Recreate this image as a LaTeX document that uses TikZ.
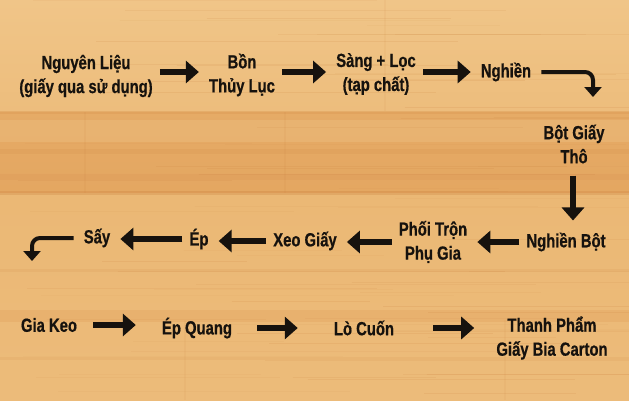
\documentclass[tikz,border=0pt]{standalone}
\usepackage{fontspec}
\newfontfamily\stagefont{Liberation Sans}[FakeStretch=0.78,FakeBold=0.6]
\usetikzlibrary{arrows.meta,calc}

\definecolor{woodlight}{RGB}{240,197,136}
\definecolor{woodbase}{RGB}{235,184,117}
\definecolor{wooddark}{RGB}{226,162,92}
\definecolor{woodgrain}{RGB}{205,132,66}
\definecolor{inkblack}{RGB}{22,18,14}

\tikzset{
  stage/.style={font=\stagefont\bfseries\fontsize{19}{24}\selectfont, align=center, text=inkblack, inner sep=0pt},
  flow/.style={draw=inkblack, line width=6pt, -{Triangle[width=22pt,length=13pt]}, shorten <=7pt, shorten >=10pt},
  turn/.style={draw=inkblack, line width=4pt, -{Triangle[width=17pt,length=10pt]}, rounded corners=8pt},
}

\begin{document}
\begin{tikzpicture}[x=1pt,y=1pt]
			%%%%% WOOD %%%%%
			\useasboundingbox (0,0) rectangle (629,400);
			\fill[woodbase] (0,0) rectangle (629,400);
			\shade[top color=woodlight, bottom color=woodbase!60!woodlight] (0,290) rectangle (629,400);
			\shade[top color=wooddark!60!woodbase, bottom color=wooddark!80!woodbase] (0,207) rectangle (629,288);
			\shade[top color=woodbase, bottom color=woodbase!75!woodlight] (0,0) rectangle (629,207);
			\fill[woodgrain, opacity=0.30] (0,205) rectangle (629,209);
			\fill[woodgrain, opacity=0.20] (0,286) rectangle (629,289);
			\fill[woodlight, opacity=0.35] (0,258) rectangle (629,280);
			\fill[woodgrain, opacity=0.15] (0,246) rectangle (629,251);
			\fill[woodgrain, opacity=0.12] (0,220) rectangle (629,226);
			\fill[wooddark, opacity=0.35] (0,78) rectangle (629,90);
			\fill[woodgrain, opacity=0.12] (0,128) rectangle (629,131);
			\fill[woodgrain, opacity=0.12] (0,40) rectangle (629,43);
			\pgfmathsetseed{17}
			\foreach \i in {1,...,70}{
				\pgfmathsetmacro\yy{rnd*400}
				\pgfmathsetmacro\xa{rnd*500}
				\pgfmathsetmacro\op{0.05+0.12*rnd}
				\draw[woodgrain, opacity=\op, line width=0.8pt] (\xa,\yy) -- ++(120+rnd*300,0);
			}
			\draw[woodgrain, opacity=0.10, line width=1.5pt] (85,207) -- (85,288);
			\draw[woodgrain, opacity=0.10, line width=1.5pt] (285,207) -- (285,288);
			\draw[woodgrain, opacity=0.08, line width=1.5pt] (385,289) -- (385,400);
			\draw[woodgrain, opacity=0.08, line width=1.5pt] (185,0) -- (185,80);
			\draw[woodgrain, opacity=0.08, line width=1.5pt] (505,0) -- (505,80);

			%%%%% STAGES %%%%%
			\node[stage] (raw) at (86,324) {Nguyên Liệu\\(giấy qua sử dụng)};
			\node[stage] (tank) at (242,325) {Bồn\\Thủy Lục};
			\node[stage] (screen) at (376,326) {Sàng + Lọc\\(tạp chất)};
			\node[stage] (mill) at (506,328) {Nghiền};
			\node[stage] (pulp) at (574,256) {Bột Giấy\\Thô};
			\node[stage] (grind) at (566,158) {Nghiền Bột};
			\node[stage] (mix) at (433,158) {Phối Trộn\\Phụ Gia};
			\node[stage] (form) at (305,159) {Xeo Giấy};
			\node[stage] (press) at (199,161) {Ép};
			\node[stage] (dry) at (97,162) {Sấy};
			\node[stage] (glue) at (49,75) {Gia Keo};
			\node[stage] (calender) at (197,72) {Ép Quang};
			\node[stage] (reel) at (364,72) {Lò Cuốn};
			\node[stage] (product) at (552,62) {Thanh Phẩm\\Giấy Bia Carton};

			\coordinate (turnA) at (593,303);
			\coordinate (turnB) at (32,139);

			%%%%% ARROWS %%%%%
			\draw[flow] (raw.east |- mill) -- (tank.west |- mill);
			\draw[flow] (tank.east |- mill) -- (screen.west |- mill);
			\draw[flow] (screen.east |- mill) -- (mill.west);
			\draw[turn] ([xshift=10pt]mill.east) -| (turnA);
			\draw[flow, shorten <=12pt, shorten >=12pt] (pulp.south -| 573,0) -- (grind.north -| 573,0);
			\draw[flow] (grind.west) -- (mix.east |- grind);
			\draw[flow] (mix.west |- grind) -- (form.east |- grind);
			\draw[flow] (form.west) -- (press.east |- form);
			\draw[flow] (press.west) -- (dry.east |- press);
			\draw[turn] ([xshift=-10pt]dry.west) -| (turnB);
			\draw[flow, shorten <=16pt, shorten >=26pt] (glue.east) -- (calender.west |- glue);
			\draw[flow, shorten <=25pt, shorten >=36pt] (calender.east) -- (reel.west);
			\draw[flow, shorten <=39pt, shorten >=22pt] (reel.east) -- (product.west |- reel);
\end{tikzpicture}
\end{document}
